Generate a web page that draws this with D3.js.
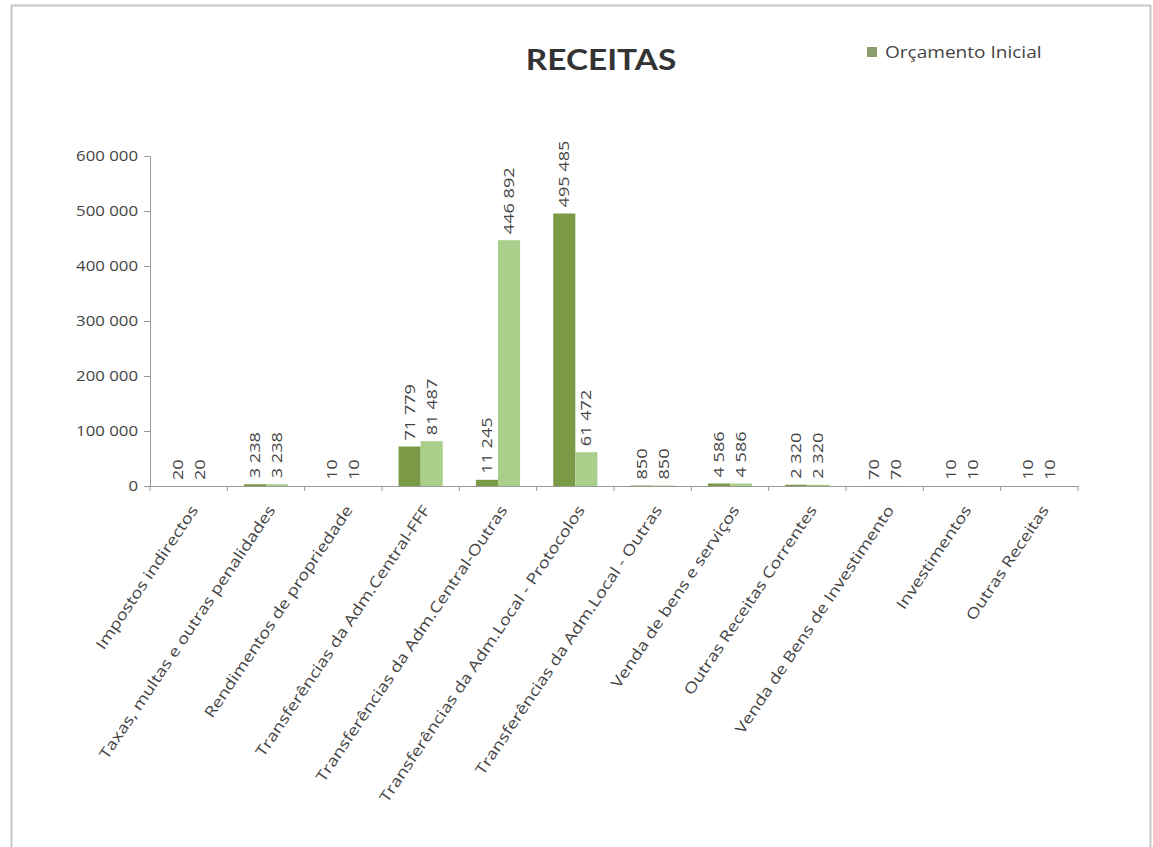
<!DOCTYPE html>
<html>
<head>
<meta charset="utf-8">
<script src="https://cdn.jsdelivr.net/npm/d3@7"></script>
<style>
  body { margin: 0; background: #fff; }
  svg { display: block; }
  text { font-family: "Open Sans", Lato, sans-serif; }
</style>
</head>
<body>
<svg id="chart" width="1153" height="847"></svg>
<script>
const categories = [
  "Impostos indirectos",
  "Taxas, multas e outras penalidades",
  "Rendimentos de propriedade",
  "Transferências da Adm.Central-FFF",
  "Transferências da Adm.Central-Outras",
  "Transferências da Adm.Local - Protocolos",
  "Transferências da Adm.Local - Outras",
  "Venda de bens e serviços",
  "Outras Receitas Correntes",
  "Venda de Bens de Investimento",
  "Investimentos",
  "Outras Receitas"
];
const seriesNames = ["Orçamento Inicial", "Orçamento Corrigido"];
const seriesA = [20, 3238, 10, 71779, 11245, 495485, 850, 4586, 2320, 70, 10, 10];
const seriesB = [20, 3238, 10, 81487, 446892, 61472, 850, 4586, 2320, 70, 10, 10];
const yTicks = [0, 100000, 200000, 300000, 400000, 500000, 600000];
const colors = ["#7b9a45", "#a9cf8b"];
const legendNames = ["Orçamento Inicial"];
const legendColors = ["#8c9c6c"];

const svg = d3.select("#chart");
const fmt = v => d3.format(",")(v).replace(/,/g, " ");

// outer border
svg.append("rect").attr("x", 11.5).attr("y", 5.5).attr("width", 1139).attr("height", 850)
  .attr("fill", "none").attr("stroke", "#c8c8c8").attr("stroke-width", 2);

const pLeft = 150, pRight = 1078, pTop = 156, pBottom = 486;
const x = d3.scaleBand().domain(categories).range([pLeft, pRight]).paddingInner(0).paddingOuter(0);
const bw = x.bandwidth() / 3.5;
const y = d3.scaleLinear().domain([0, 600000]).range([pBottom, pTop]);

// title
svg.append("text").attr("transform", "translate(601,70) scale(1.15,1)").attr("text-anchor", "middle")
  .attr("font-size", 29).attr("font-weight", "bold").attr("fill", "#333")
  .style("font-family", "Lato, 'Open Sans', sans-serif").text("RECEITAS");

// legend
const lg = svg.append("g").attr("transform", "translate(867,52)");
lg.selectAll("g").data(legendNames).join("g").each(function(d, i) {
  const g = d3.select(this);
  g.append("rect").attr("x", 0).attr("y", -5).attr("width", 10).attr("height", 10).attr("fill", legendColors[i]);
  g.append("text").attr("transform", "translate(18,6) scale(1.19,1)")
    .attr("font-size", 16).attr("fill", "#444").text(d);
});

// y axis
const yAxis = d3.axisLeft(y).tickValues(yTicks).tickFormat(fmt).tickSize(6).tickPadding(4);
const ya = svg.append("g").attr("transform", `translate(${pLeft},0)`).call(yAxis);
ya.select(".domain").attr("stroke", "#999");
ya.selectAll(".tick line").attr("stroke", "#999");
ya.selectAll(".tick text").attr("font-size", 14).attr("fill", "#444")
  .attr("transform", "scale(1.2,1)")
  .style("font-family", "'Open Sans', sans-serif");

// bars
const groups = [seriesA, seriesB];
groups.forEach((vals, si) => {
  svg.append("g").selectAll("rect").data(categories).join("rect")
    .attr("x", d => x(d) + x.bandwidth() / 2 - bw + si * bw)
    .attr("y", (d, i) => y(vals[i]))
    .attr("width", bw)
    .attr("height", (d, i) => y(0) - y(vals[i]))
    .attr("fill", colors[si]);
  svg.append("g").selectAll("text").data(categories).join("text")
    .attr("transform", (d, i) => {
      const cx = x(d) + x.bandwidth() / 2 - bw / 2 + si * bw + 5;
      return `translate(${cx},${y(vals[i]) - 6}) rotate(-90) scale(1.25,1)`;
    })
    .attr("font-size", 14.5).attr("fill", "#444")
    .text((d, i) => fmt(vals[i]));
});

// x axis
const xAxis = d3.axisBottom(x).tickSize(0).tickFormat("");
const xa = svg.append("g").attr("transform", `translate(0,${pBottom})`).call(xAxis);
xa.select(".domain").attr("stroke", "#999");
xa.selectAll(".tick").remove();
// tick marks at category boundaries
svg.append("g").selectAll("line").data(categories.concat(["__end"])).join("line")
  .attr("x1", (d, i) => pLeft + i * x.bandwidth()).attr("x2", (d, i) => pLeft + i * x.bandwidth())
  .attr("y1", pBottom).attr("y2", pBottom + 5).attr("stroke", "#999");

// category labels
svg.append("g").selectAll("text").data(categories).join("text")
  .attr("transform", d => `translate(${x(d) + x.bandwidth() / 2 + 10},${pBottom + 24}) rotate(-56) scale(1.23,1)`)
  .attr("text-anchor", "end").attr("font-size", 15).attr("fill", "#444")
  .text(d => d);
</script>
</body>
</html>
